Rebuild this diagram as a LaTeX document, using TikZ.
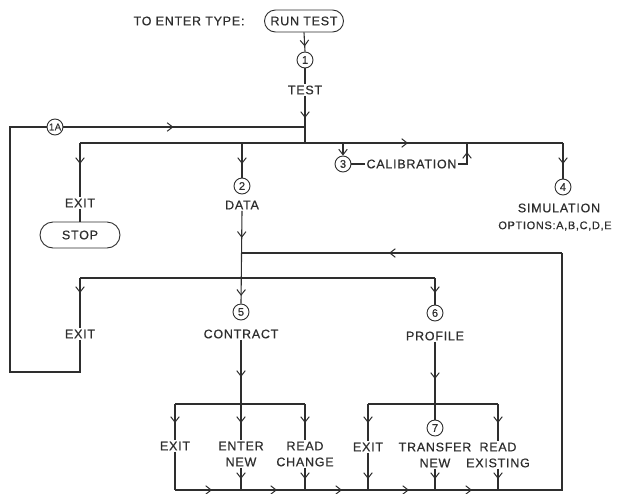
\documentclass[tikz,border=0pt]{standalone}
\usepackage{fontspec}
\setmainfont{Liberation Sans}[LetterSpace=6, FakeBold=0.6]
\usetikzlibrary{arrows.meta,decorations.markings,shapes.misc}
\definecolor{ink}{HTML}{2E2E2E}
\begin{document}
\begin{tikzpicture}[x=1pt,y=-1pt,
  line width=1.1pt, draw=ink, text=ink,
  lbl/.style={font=\fontsize{12.5}{16}\selectfont, align=center, inner sep=1pt},
  num/.style={draw, circle, minimum size=16pt, inner sep=0pt, font=\fontsize{11}{11}\selectfont, line width=0.9pt},
  term/.style={draw, rounded rectangle, font=\fontsize{12.5}{16}\selectfont, line width=0.9pt, inner xsep=2pt},
  arr/.style={postaction={decorate,decoration={markings,mark=at position #1 with {\arrow{Straight Barb[length=5.5pt,width=8.5pt,line width=1pt]}}}}}
]
\useasboundingbox (0,0) rectangle (618,493);

% nodes
\node[lbl] (title) at (189,21) {TO ENTER TYPE:};
\node[term, minimum width=83pt, minimum height=22pt] (run) at (304,21) {RUN TEST};
\node[num] (c1) at (305,60) {1};
\node[lbl] (test) at (305,90) {TEST};
\node[num, font=\fontsize{9.5}{9.5}\selectfont] (c1a) at (55,127) {1A};
\node[lbl] (exit1) at (80,203) {EXIT};
\node[term, minimum width=84pt, minimum height=26pt] (stop) at (80,235) {STOP};
\node[num] (c2) at (242,186) {2};
\node[lbl] (data) at (242,205) {DATA};
\node[num] (c3) at (343,164) {3};
\node[lbl, anchor=west] (calib) at (365,164) {CALIBRATION};
\node[num] (c4) at (563,187) {4};
\node[lbl] (sim) at (559,208) {SIMULATION};
\node[lbl, font=\fontsize{11}{14}\selectfont] (opt) at (555,226) {OPTIONS:A,B,C,D,E};
\node[lbl] (exit2) at (80,334) {EXIT};
\node[num] (c5) at (241,312) {5};
\node[lbl] (contract) at (241,334) {CONTRACT};
\node[num] (c6) at (435,313) {6};
\node[lbl] (profile) at (435,336) {PROFILE};
\node[lbl] (exit3) at (175,446) {EXIT};
\node[lbl] (enter) at (241,454) {ENTER\\NEW};
\node[lbl] (readc) at (305,454) {READ\\CHANGE};
\node[lbl] (exit4) at (368,447) {EXIT};
\node[num] (c7) at (435,428) {7};
\node[lbl] (transfer) at (435,455) {TRANSFER\\NEW};
\node[lbl] (readex) at (498,455) {READ\\EXISTING};

% coordinates
\coordinate (j0) at (305,127);
\coordinate (m0) at (80,143);
\coordinate (m1) at (305,143);
\coordinate (m2) at (242,143);
\coordinate (m3) at (343,143);
\coordinate (m5) at (467,143);
\coordinate (m4) at (563,143);
\coordinate (lb) at (10,372);
\coordinate (d1) at (241,253);
\coordinate (r0) at (562,253);
\coordinate (s0) at (80,278);
\coordinate (s6) at (435,278);
\coordinate (t0) at (175,404);
\coordinate (t2) at (305,404);
\coordinate (u0) at (368,404);
\coordinate (u2) at (498,404);
\coordinate (b0) at (175,490);
\coordinate (r1) at (562,490);

% top
\draw[arr=14pt] (run.south) -- (c1.north);
\draw (c1.south) -- (test.north);
\draw[arr=-25pt] (test.south) -- (m1);
\draw (exit2.south) |- (lb) |- (c1a.west);
\draw[arr=110pt] (c1a.east) -- (j0);

% main line
\draw[arr=328pt] (m0) -- (m4);
\draw[arr=21pt] (m0) -- (exit1.north);
\draw (exit1.south) -- (stop.north);
\draw[arr=21pt] (m2) -- (c2.north);
\draw[-{Straight Barb[length=5.5pt,width=8.5pt,line width=1pt]}] (m3) -- (c3.north);
\draw (c3.east) -- (calib.west);
\draw[arr=-9pt] (calib.east) -| (m5);
\draw[arr=21pt] (m4) -- (c4.north);

% data branch
\draw[arr=27pt, arr=85pt] (data.south) -- (c5.north);
\draw[arr=173pt] (r0) -- (d1);
\draw (s0) -- (s6);
\draw[arr=15pt] (s0) -- (exit2.north);
\draw[arr=15pt] (s6) -- (c6.north);

% contract branch
\draw[arr=37pt, arr=83pt] (contract.south) -- (enter.north);
\draw (t0) -- (t2);
\draw[arr=19pt] (t0) -- (exit3.north);
\draw[arr=19pt] (t2) -- (readc.north);

% profile branch
\draw[arr=37pt] (profile.south) -- (c7.north);
\draw (u0) -- (u2);
\draw[arr=19pt] (u0) -- (exit4.north);
\draw[arr=19pt] (u2) -- (readex.north);

% bottom return
\draw (exit3.south) -- (b0);
\draw[arr=-11pt] (enter.south) -- (enter.south |- b0);
\draw[arr=-11pt] (readc.south) -- (readc.south |- b0);
\draw[arr=-11pt] (exit4.south) -- (exit4.south |- b0);
\draw[arr=-11pt] (transfer.south) -- (transfer.south |- b0);
\draw[arr=-11pt] (readex.south) -- (readex.south |- b0);
\draw[arr=37pt, arr=102pt, arr=167pt, arr=234pt, arr=297pt] (b0) -- (r1) -- (r0);
\end{tikzpicture}
\end{document}
